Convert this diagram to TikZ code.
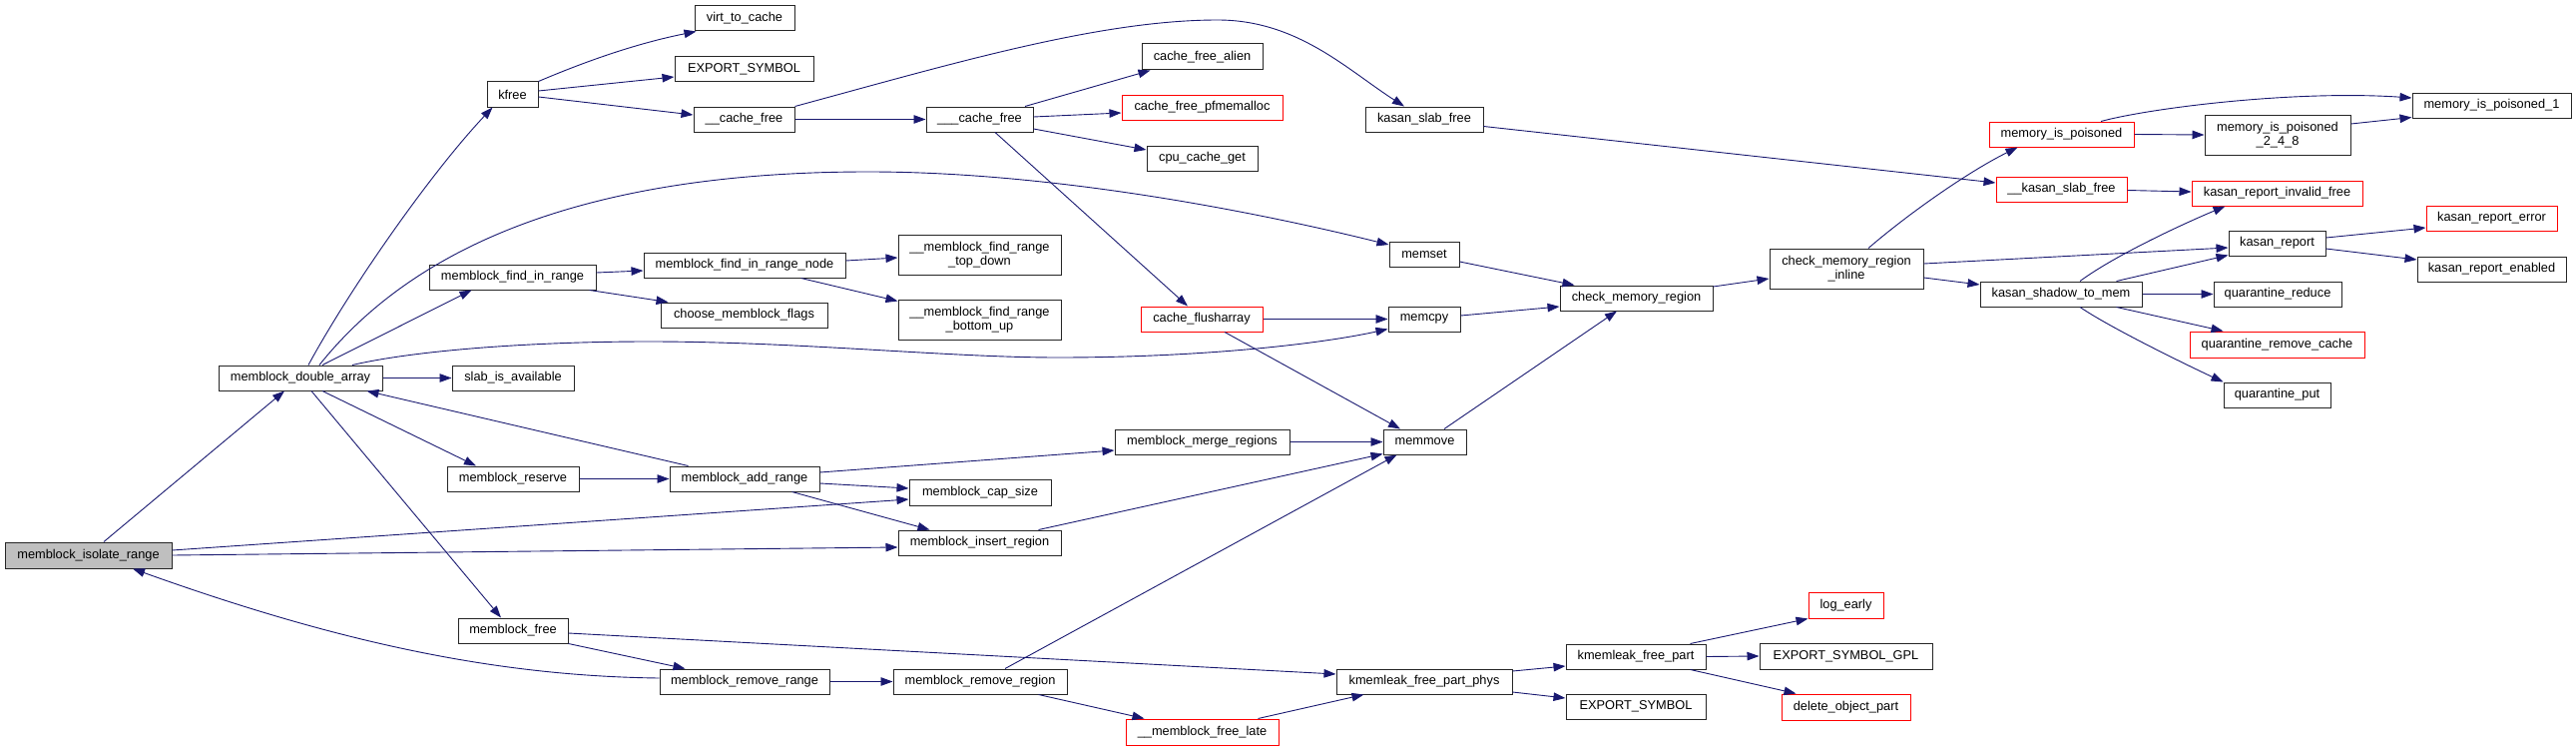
\documentclass[tikz,border=0pt]{standalone}
\usepackage{fontspec}
\setmainfont{Liberation Sans}
\usetikzlibrary{arrows.meta}
\definecolor{edgeblue}{RGB}{25,25,112}
\definecolor{rootgrey}{RGB}{191,191,191}
\begin{document}
\begin{tikzpicture}[x=1pt,y=-1pt,
  fn/.style={draw=black!85, line width=1pt, fill=white, inner sep=0pt, minimum height=25pt,
    font=\fontsize{12.8}{14}\selectfont, align=center},
  trunc/.style={fn, draw=red},
  root/.style={fn, fill=rootgrey},
  two/.style={minimum height=40pt},
  edge/.style={draw=edgeblue, line width=0.9pt, -{Triangle[length=12pt,width=8.5pt]}}
]
\useasboundingbox (0,0) rectangle (2581,752);
% nodes
\node[root, minimum width=167, minimum height=26] (iso) at (88.5,556) {memblock\_isolate\_range};
\node[fn, minimum width=164] (da) at (301,378.5) {memblock\_double\_array};
\node[fn, minimum width=51] (kfree) at (513.5,94.5) {kfree};
\node[fn, minimum width=100] (v2c) at (746,18.5) {virt\_to\_cache};
\node[fn, minimum width=139] (exp1) at (745.5,69.5) {EXPORT\_SYMBOL};
\node[fn, minimum width=101] (cf) at (745.5,119.5) {\_\_cache\_free};
\node[fn, minimum width=167] (fir) at (513.5,277.5) {memblock\_find\_in\_range};
\node[fn, minimum width=202] (firn) at (746,265.5) {memblock\_find\_in\_range\_node};
\node[fn, minimum width=167] (cmf) at (745.5,315.5) {choose\_memblock\_flags};
\node[fn, minimum width=122] (sia) at (514,378.5) {slab\_is\_available};
\node[fn, minimum width=132] (res) at (514,479.5) {memblock\_reserve};
\node[fn, minimum width=150] (add) at (746,479.5) {memblock\_add\_range};
\node[fn, minimum width=110] (mfree) at (514,631.5) {memblock\_free};
\node[fn, minimum width=170] (rr) at (746,682.5) {memblock\_remove\_range};
\node[fn, minimum width=107] (ccf) at (981.5,119.5) {\_\_\_cache\_free};
\node[fn, two, minimum width=163] (td) at (981.5,255) {\_\_memblock\_find\_range\\\_top\_down};
\node[fn, two, minimum width=163] (bu) at (981.5,320) {\_\_memblock\_find\_range\\\_bottom\_up};
\node[fn, minimum width=142, minimum height=26] (cap) at (982,493) {memblock\_cap\_size};
\node[fn, minimum width=163] (ins) at (981.5,543.5) {memblock\_insert\_region};
\node[fn, minimum width=174] (rreg) at (982,682.5) {memblock\_remove\_region};
\node[fn, minimum width=121, minimum height=26] (cfa) at (1204.5,57) {cache\_free\_alien};
\node[trunc, minimum width=161] (pfm) at (1204.5,107.5) {cache\_free\_pfmemalloc};
\node[fn, minimum width=111] (ccg) at (1204.5,158.5) {cpu\_cache\_get};
\node[trunc, minimum width=122] (cfl) at (1204,319.5) {cache\_flusharray};
\node[fn, minimum width=175] (merge) at (1204.5,442.5) {memblock\_merge\_regions};
\node[trunc, minimum width=153, minimum height=26] (fl) at (1204.5,733) {\_\_memblock\_free\_late};
\node[fn, minimum width=118] (ksf) at (1427,119.5) {kasan\_slab\_free};
\node[fn, minimum width=70] (memset) at (1427,254.5) {memset};
\node[fn, minimum width=72] (memcpy) at (1427,319.5) {memcpy};
\node[fn, minimum width=83] (memmove) at (1427.5,442.5) {memmove};
\node[fn, minimum width=176] (kfpp) at (1427,682.5) {kmemleak\_free\_part\_phys};
\node[fn, minimum width=153] (cmr) at (1639.5,298.5) {check\_memory\_region};
\node[fn, minimum width=140] (kfp) at (1639,657.5) {kmemleak\_free\_part};
\node[fn, minimum width=140] (exp2) at (1639,707.5) {EXPORT\_SYMBOL};
\node[fn, two, minimum width=154] (cmri) at (1850,269) {check\_memory\_region\\\_inline};
\node[trunc, minimum width=75, minimum height=26] (le) at (1849.5,606) {log\_early};
\node[fn, minimum width=173, minimum height=26] (esg) at (1849.5,657) {EXPORT\_SYMBOL\_GPL};
\node[trunc, minimum width=129, minimum height=26] (dop) at (1849.5,708) {delete\_object\_part};
\node[trunc, minimum width=145] (mip) at (2065.5,134.5) {memory\_is\_poisoned};
\node[trunc, minimum width=131] (kksf) at (2065.5,189.5) {\_\_kasan\_slab\_free};
\node[fn, minimum width=162] (stm) at (2065,294.5) {kasan\_shadow\_to\_mem};
\node[fn, minimum width=159] (mip1) at (2496.5,105.5) {memory\_is\_poisoned\_1};
\node[fn, two, minimum width=146] (mip248) at (2282,135) {memory\_is\_poisoned\\\_2\_4\_8};
\node[trunc, minimum width=171] (krif) at (2281.5,193.5) {kasan\_report\_invalid\_free};
\node[fn, minimum width=97] (kr) at (2281.5,243.5) {kasan\_report};
\node[trunc, minimum width=131] (kre) at (2496.5,218.5) {kasan\_report\_error};
\node[fn, minimum width=149] (kren) at (2496.5,269.5) {kasan\_report\_enabled};
\node[fn, minimum width=128] (qr) at (2282,294.5) {quarantine\_reduce};
\node[trunc, minimum width=175, minimum height=26] (qrc) at (2281.5,345) {quarantine\_remove\_cache};
\node[fn, minimum width=107] (qp) at (2281.5,395.5) {quarantine\_put};
% edges
\draw[edge] ([xshift=15.5]iso.north) -- ([xshift=-16]da.south);
\draw[edge] ([yshift=5]iso.east) -- ([yshift=-7]cap.west);
\draw[edge] (iso.east) -- ([yshift=-4.5]ins.west);
\draw[edge] ([yshift=3.5]rr.west) .. controls (490,677) and (330,640) .. ([xshift=44.5]iso.south);
\draw[edge] ([xshift=19]add.north west) -- ([xshift=-16]da.south east);
\draw[edge] ([xshift=11]da.south) -- ([xshift=-12]mfree.north);
\draw[edge] ([xshift=22]da.south) -- ([xshift=-37]res.north);
\draw[edge] (da.east) -- (sia.west);
\draw[edge] ([xshift=52]da.north) .. controls (420,350) and (540,342) .. (650,342) .. controls (800,342) and (950,358) .. (1060,358) .. controls (1200,358) and (1320,345) .. ([yshift=-10]memcpy.west);
\draw[edge] ([xshift=8]da.north) .. controls (350,290) and (430,175) .. ([xshift=-20]kfree.south);
\draw[edge] ([xshift=19]da.north) .. controls (420,240) and (600,172) .. (870,172) .. controls (1050,172) and (1250,210) .. ([yshift=9.5]memset.west);
\draw[edge] ([xshift=22]da.north) -- ([xshift=43]fir.south west);
\draw[edge] (kfree.north east) .. controls (590,60) and (640,43) .. ([xshift=2]v2c.south west);
\draw[edge] ([yshift=3.5]kfree.east) -- ([yshift=-7.5]exp1.west);
\draw[edge] ([yshift=-2.5]kfree.east) -- ([yshift=4.5]cf.west);
\draw[edge] (cf.east) -- (ccf.west);
\draw[edge] (cf.north east) .. controls (950,65) and (1100,20) .. (1220,20) .. controls (1300,20) and (1350,70) .. ([xshift=-20]ksf.north);
\draw[edge] ([xshift=45.5]ccf.north) -- ([xshift=9]cfa.south west);
\draw[edge] ([yshift=2.5]ccf.east) -- ([yshift=-5.5]pfm.west);
\draw[edge] ([yshift=-9.5]ccf.east) -- ([yshift=8.5]ccg.west);
\draw[edge] ([xshift=15.5]ccf.south) -- ([xshift=-14]cfl.north);
\draw[edge] ([yshift=4.5]fir.east) -- ([yshift=-5.5]firn.west);
\draw[edge] ([xshift=-7]fir.south east) -- ([xshift=8]cmf.north west);
\draw[edge] ([yshift=4.5]firn.east) -- ([yshift=-3]td.west);
\draw[edge] ([xshift=-45]firn.south east) -- ([yshift=-2]bu.north west);
\draw[edge] (cfl.east) -- (memcpy.west);
\draw[edge] ([xshift=23]cfl.south) -- ([xshift=-24.5]memmove.north);
\draw[edge] ([yshift=-7]ksf.east) -- ([yshift=6.5]kksf.west);
\draw[edge] ([yshift=-7.5]memset.east) -- ([xshift=15]cmr.north west);
\draw[edge] ([yshift=3.5]memcpy.east) -- ([yshift=-8.5]cmr.west);
\draw[edge] ([xshift=19.5]memmove.north) -- ([xshift=-19.5]cmr.south);
\draw[edge] ([yshift=11.5]cmr.east) -- ([yshift=-10]cmri.west);
\draw[edge] ([xshift=22]cmri.north) .. controls (1912,214) and (1972,172) .. ([xshift=29]mip.south west);
\draw[edge] ([yshift=5]cmri.east) -- ([yshift=-4.5]kr.west);
\draw[edge] ([yshift=-9]cmri.east) -- ([yshift=9.5]stm.west);
\draw[edge] ([xshift=39.5]mip.north) .. controls (2155,108) and (2300,90) .. ([yshift=7.5]mip1.west);
\draw[edge] (mip.east) -- (mip248.west);
\draw[edge] ([yshift=11]mip248.east) -- ([yshift=1]mip1.south west);
\draw[edge] ([yshift=-1]kksf.east) -- ([yshift=1.5]krif.west);
\draw[edge] ([xshift=19]stm.north) .. controls (2120,255) and (2190,223) .. ([xshift=34]krif.south west);
\draw[edge] ([xshift=-26]stm.north east) -- ([yshift=1]kr.south west);
\draw[edge] (stm.east) -- (qr.west);
\draw[edge] ([xshift=-26]stm.south east) -- ([xshift=34]qrc.north west);
\draw[edge] ([xshift=19]stm.south) .. controls (2114,328) and (2190,365) .. (qp.north west);
\draw[edge] ([yshift=5.5]kr.east) -- ([yshift=-9.5]kre.west);
\draw[edge] ([yshift=-5.5]kr.east) -- ([yshift=9.5]kren.west);
\draw[edge] (res.east) -- (add.west);
\draw[edge] ([yshift=6.5]add.east) -- ([yshift=-8.5]merge.west);
\draw[edge] ([yshift=-4.5]add.east) -- ([yshift=4]cap.west);
\draw[edge] ([xshift=-28]add.south east) -- ([xshift=32]ins.north west);
\draw[edge] (merge.east) -- (memmove.west);
\draw[edge] ([xshift=-23]ins.north east) -- ([yshift=1]memmove.south west);
\draw[edge] ([xshift=25]rreg.north) -- ([xshift=14]memmove.south west);
\draw[edge] (mfree.south east) -- ([xshift=26]rr.north west);
\draw[edge] ([yshift=-2.5]mfree.east) -- ([yshift=7.5]kfpp.west);
\draw[edge] (rr.east) -- (rreg.west);
\draw[edge] ([xshift=-29]rreg.south east) -- ([xshift=19]fl.north west);
\draw[edge] ([xshift=-21]fl.north east) -- ([xshift=28]kfpp.south west);
\draw[edge] ([yshift=10.5]kfpp.east) -- ([yshift=-9.5]kfp.west);
\draw[edge] ([yshift=-10.5]kfpp.east) -- ([yshift=8.5]exp2.west);
\draw[edge] ([xshift=-16]kfp.north east) -- (le.south west);
\draw[edge] (kfp.east) -- (esg.west);
\draw[edge] ([xshift=-16]kfp.south east) -- ([xshift=15]dop.north west);
\end{tikzpicture}
\end{document}
